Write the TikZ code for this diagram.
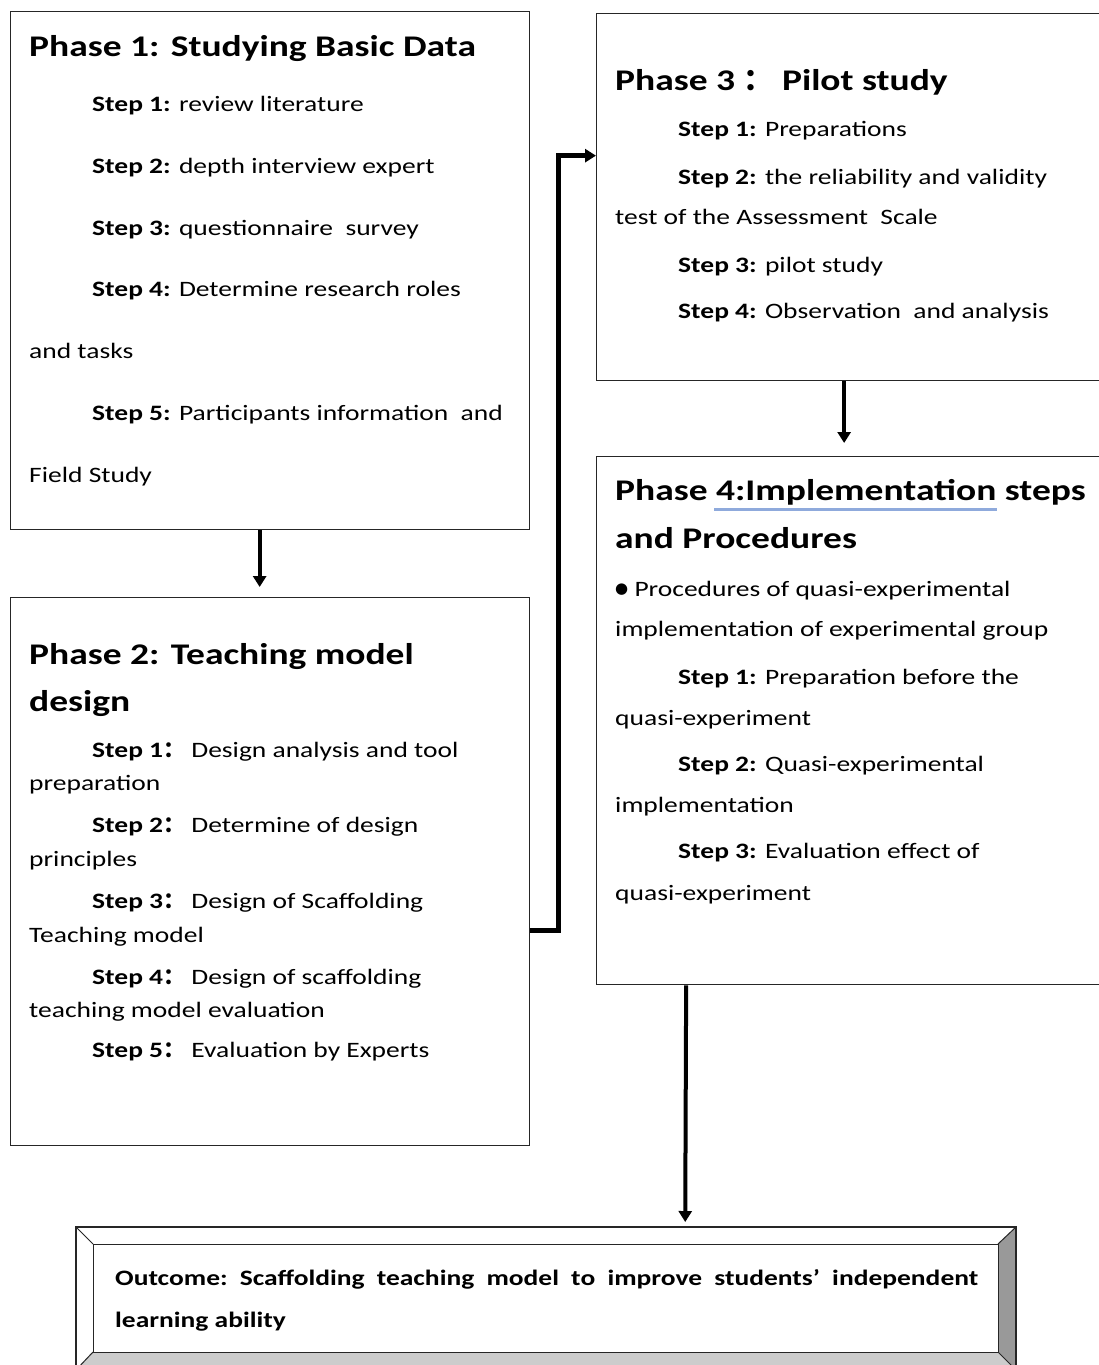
\documentclass[tikz,border=0pt]{standalone}
\usepackage{fontspec}
\setmainfont{Carlito}[FakeStretch=1.25]
\newfontfamily\cjk{Noto Sans CJK SC}
\newfontfamily\symfont{DejaVu Sans}
\usetikzlibrary{arrows.meta}
\definecolor{spellblue}{RGB}{143,170,220}
\newcommand{\fwc}{{\cjk ：}}
\begin{document}
\begin{tikzpicture}[x=1pt,y=-1pt,
  txt/.style={anchor=base west,inner sep=0pt,font=\fontsize{22}{22}\selectfont},
  ttl/.style={anchor=base west,inner sep=0pt,font=\fontsize{30}{30}\selectfont\bfseries},
  phasebox/.style={draw=black!85,line width=1.3pt,anchor=north west,inner sep=0pt},
  flow/.style={line width=4pt,-{Triangle[length=11pt,width=13pt]}},
]
\useasboundingbox (0,0) rectangle (1099,1365);
\fill[white] (0,0) rectangle (1099,1365);

% phase boxes
\node[phasebox,minimum width=519pt,minimum height=518pt] (ph1) at (10,11) {};
\node[phasebox,minimum width=519pt,minimum height=548pt] (ph2) at (10,597) {};
\node[phasebox,minimum width=506pt,minimum height=367pt] (ph3) at (596,13) {};
\node[phasebox,minimum width=506pt,minimum height=528pt] (ph4) at (596,456) {};

% bevelled outcome box
\coordinate (oA) at (76,1227);
\coordinate (oB) at (1016,1227);
\coordinate (oC) at (1016,1370);
\coordinate (oD) at (76,1370);
\coordinate (iA) at (93,1244);
\coordinate (iB) at (998,1244);
\coordinate (iC) at (998,1352);
\coordinate (iD) at (93,1352);
\fill[white] (oA) -- (oB) -- (iB) -- (iA) -- cycle;
\fill[white] (oA) -- (iA) -- (iD) -- (oD) -- cycle;
\fill[black!40] (oB) -- (oC) -- (iC) -- (iB) -- cycle;
\fill[black!20] (oD) -- (iD) -- (iC) -- (oC) -- cycle;
\draw[black!85,line width=1.3pt] (oA) rectangle (oC);
\draw[black!85,line width=1pt] (iA) rectangle (iC);
\draw[black!85,line width=1pt] (oA) -- (iA) (oB) -- (iB) (oC) -- (iC) (oD) -- (iD);
\node[anchor=north west,inner sep=0pt,minimum width=940pt,minimum height=143pt] (outc) at (76,1227) {};

% connectors
\draw[flow,shorten >=10pt] ([xshift=-10.5pt]ph1.south) -- ([xshift=-10.5pt]ph2.north);
\draw[flow,shorten >=13pt] ([xshift=-5.5pt]ph3.south) -- ([xshift=-5.5pt]ph4.north);
\draw[flow,line width=5pt] ([yshift=-59pt]ph2.east) -- ++(28,0) |- ([yshift=41.5pt]ph3.west);
\draw[flow,shorten >=5pt] ([xshift=-163.5pt]ph4.south) -- ([xshift=139pt]outc.north);

% Phase 1
\node[ttl] (t1) at (29,56) {Phase 1: Studying Basic Data};
\node[txt] (a1) at (92,111) {\textbf{Step 1:} review literature};
\node[txt] (a2) at (92,173) {\textbf{Step 2:} depth interview expert};
\node[txt] (a3) at (92,235) {\textbf{Step 3:} questionnaire\ \ survey};
\node[txt] (a4) at (92,296) {\textbf{Step 4:} Determine research roles};
\node[txt] (a4b) at (29,358) {and tasks};
\node[txt] (a5) at (92,420) {\textbf{Step 5:} Participants information\ \ and};
\node[txt] (a5b) at (29,482) {Field Study};

% Phase 2
\node[ttl] (t2) at (29,664) {Phase 2: Teaching model};
\node[ttl] (t2b) at (29,711) {design};
\node[txt] (b1) at (92,757) {\textbf{Step 1\fwc} Design analysis and tool};
\node[txt] (b1b) at (29,790) {preparation};
\node[txt] (b2) at (92,832) {\textbf{Step 2\fwc} Determine of design};
\node[txt] (b2b) at (29,866) {principles};
\node[txt] (b3) at (92,908) {\textbf{Step 3\fwc} Design of Scaffolding};
\node[txt] (b3b) at (29,942) {Teaching model};
\node[txt] (b4) at (92,984) {\textbf{Step 4\fwc} Design of scaffolding};
\node[txt] (b4b) at (29,1017) {teaching model evaluation};
\node[txt] (b5) at (92,1057) {\textbf{Step 5\fwc} Evaluation by Experts};

% Phase 3
\node[ttl] (t3) at (615,90) {Phase 3 \fwc{} Pilot study};
\node[txt] (c1) at (678,136) {\textbf{Step 1:} Preparations};
\node[txt] (c2) at (678,184) {\textbf{Step 2:} the reliability and validity};
\node[txt] (c2b) at (615,224) {test of the Assessment\ \ Scale};
\node[txt] (c3) at (678,272) {\textbf{Step 3:} pilot study};
\node[txt] (c4) at (678,318) {\textbf{Step 4:} Observation\ \ and analysis};

% Phase 4
\node[ttl] (t4) at (615,500) {Phase 4:Implementation steps};
\draw[spellblue,line width=3pt] (714,509) -- (997,509);
\node[ttl] (t4b) at (615,548) {and Procedures};
\node[txt] (d0) at (615,596) {\raisebox{2.5pt}{\symfont\fontsize{15}{15}\selectfont ●} Procedures of quasi-experimental};
\node[txt] (d0b) at (615,636) {implementation of experimental group};
\node[txt] (d1) at (678,684) {\textbf{Step 1:} Preparation before the};
\node[txt] (d1b) at (615,725) {quasi-experiment};
\node[txt] (d2) at (678,771) {\textbf{Step 2:} Quasi-experimental};
\node[txt] (d2b) at (615,812) {implementation};
\node[txt] (d3) at (678,858) {\textbf{Step 3:} Evaluation effect of};
\node[txt] (d3b) at (615,900) {quasi-experiment};

% outcome text
\node[txt,font=\fontsize{22}{22}\selectfont\bfseries\frenchspacing] (o1) at (115,1285) {\makebox[863pt][s]{Outcome: Scaffolding teaching model to improve students' independent}};
\node[txt,font=\fontsize{22}{22}\selectfont\bfseries] (o2) at (115,1327) {learning ability};
\end{tikzpicture}
\end{document}
